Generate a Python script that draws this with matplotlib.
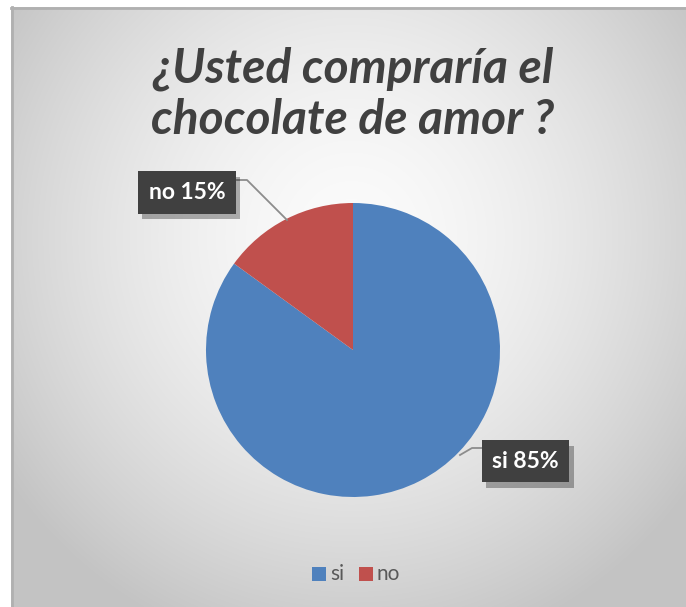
import numpy as np
import matplotlib.pyplot as plt
import matplotlib.patheffects as pe
from matplotlib.patches import Rectangle

# data
labels = ["si", "no"]
values = [85, 15]
colors = ["#4F81BD", "#C0504D"]
title = "¿Usted compraría el\nchocolate de amor ?"

W, H = 686, 607
fig = plt.figure(figsize=(W / 100, H / 100), dpi=100)
fig.patch.set_facecolor("white")

# chart area with radial gradient
x0, y0 = 11, 7  # left/top edge of chart frame in px
bg = fig.add_axes([x0 / W, 0, 1 - x0 / W, 1 - y0 / H])
bg.set_axis_off()
yy, xx = np.mgrid[0:H - y0, 0:W - x0]
d = np.sqrt(((xx - 340) / 420.0) ** 2 + ((yy - 230) / 430.0) ** 2)
d = np.clip(d, 0, 1)
g = 0.985 - 0.22 * d ** 1.6
bg.imshow(np.dstack([g, g, g]), aspect="auto", extent=[0, 1, 0, 1], interpolation="bilinear")
bg.set_xlim(0, 1)
bg.set_ylim(0, 1)
bg.plot([0.001, 0.001], [0, 1], color="#b0b0b0", lw=2, transform=bg.transAxes, clip_on=False)
bg.plot([0, 1], [0.999, 0.999], color="#b0b0b0", lw=2, transform=bg.transAxes, clip_on=False)

# title
fig.text(353 / W, 1 - 94 / H, title, ha="center", va="center", fontsize=34.5,
         fontweight="bold", fontstyle="italic", color="#404040", family="Lato",
         linespacing=1.2)

# pie
cx, cy, r = 353, 350, 147
ax = fig.add_axes([(cx - r) / W, 1 - (cy + r) / H, 2 * r / W, 2 * r / H])
ax.pie(values, colors=colors, startangle=90, counterclock=False, radius=1)
ax.set_xlim(-1, 1)
ax.set_ylim(-1, 1)
ax.set_axis_off()


def px(p, q):
    return ((p - cx) / r, (cy - q) / r)


# leader lines
for pts in [[(287, 220), (247, 180), (237, 180)], [(460, 455), (472, 448), (482, 448)]]:
    xs, ys = zip(*[px(*p) for p in pts])
    ax.plot(xs, ys, color="#8c8c8c", lw=1.3, clip_on=False)

# data labels
lab_pos = [(525.5, 461), (187, 192.5)]
for (lx, ly), lab, v in zip(lab_pos, labels, values):
    s = "%s %d%%" % (lab, v)
    X, Y = px(lx, ly)
    t = ax.annotate(s, (X, Y), ha="center", va="center", fontsize=16.5, fontweight="bold",
                    color="white", family="Lato",
                    bbox=dict(boxstyle="square,pad=0.46", fc="#404040", ec="none"),
                    annotation_clip=False)
    t.get_bbox_patch().set_path_effects(
        [pe.SimplePatchShadow(offset=(3, -4), shadow_rgbFace="black", alpha=0.3), pe.Normal()])

# legend
for sx, tx, c, lab in [(312, 330, colors[0], "si"), (359, 377, colors[1], "no")]:
    fig.patches.append(Rectangle((sx / W, 1 - 581 / H), 14 / W, 14 / H, transform=fig.transFigure,
                                 fc=c, ec="none"))
    fig.text(tx / W, 1 - 574 / H, lab, ha="left", va="center", fontsize=15, color="#595959",
             family="Lato")

fig.savefig("out.png", dpi=100)
